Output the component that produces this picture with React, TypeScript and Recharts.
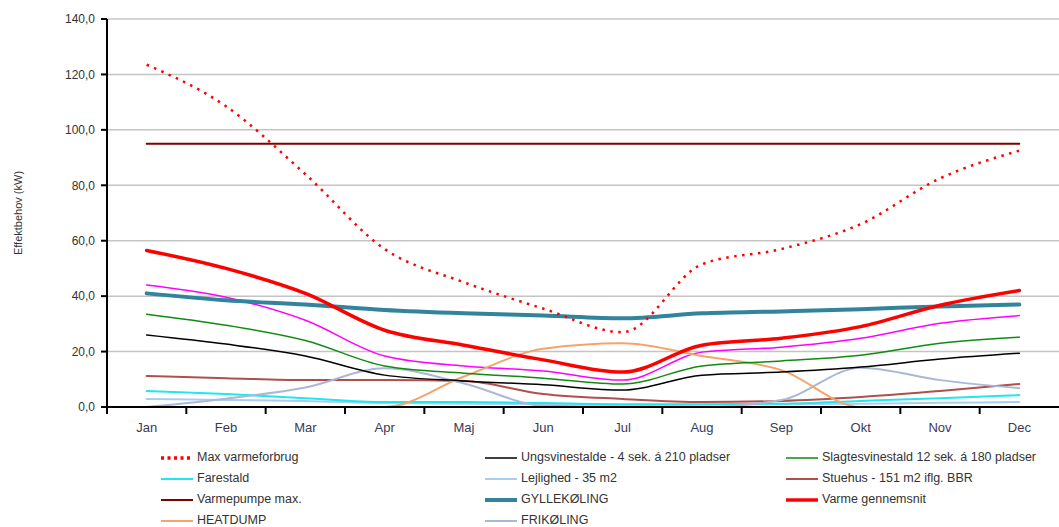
import React from 'react';
import { LineChart, Line, XAxis, YAxis, CartesianGrid } from 'recharts';

const months = ['Jan', 'Feb', 'Mar', 'Apr', 'Maj', 'Jun', 'Jul', 'Aug', 'Sep', 'Okt', 'Nov', 'Dec'];
const yTicks = [0, 20, 40, 60, 80, 100, 120, 140];

const maxVarme = [123.5, 108.5, 84, 57, 45, 35.5, 27, 51.5, 57, 66, 82.5, 92.5];
const ungsvin = [26, 22.7, 18.4, 11.5, 9.4, 8, 6.1, 11.5, 12.6, 14.4, 17.3, 19.4];
const slagtesvin = [33.5, 29.5, 24, 14.8, 12.2, 10.4, 8.3, 14.8, 16.6, 18.7, 23, 25.2];
const farestald = [5.8, 4.7, 3.2, 1.8, 1.8, 1.4, 1, 1, 1.2, 2.2, 3.2, 4.3];
const lejlighed = [2.9, 2.5, 2.2, 1.4, 1.2, 1, 0.7, 0.8, 1, 1.2, 1.5, 1.8];
const stuehus = [11.2, 10.4, 9.7, 9.7, 9.4, 4.7, 2.9, 1.8, 2.2, 3.6, 5.8, 8.3];
const varmepumpe = [95, 95, 95, 95, 95, 95, 95, 95, 95, 95, 95, 95];
const gyllekoeling = [41, 38.5, 37, 35, 33.8, 33, 32, 33.8, 34.5, 35.3, 36.3, 37];
const varmeGns = [56.5, 50, 41, 27.7, 22.3, 17, 12.6, 22.3, 24.8, 29, 36.7, 42];
const heatdump = [0, 0, 0, 0, 11, 21, 23, 18.4, 13.3, 0, 0, 0];
const frikoeling = [0, 3, 7, 14, 8.5, 0.5, 0, 0, 2.5, 14.2, 9.7, 6.8];
const total = [44, 39.6, 31.3, 18.4, 14.8, 13, 9.7, 19.8, 21.6, 24.8, 30.2, 33];

const data = months.map((m, i) => ({
  month: m,
  maxVarme: maxVarme[i],
  ungsvin: ungsvin[i],
  slagtesvin: slagtesvin[i],
  farestald: farestald[i],
  lejlighed: lejlighed[i],
  stuehus: stuehus[i],
  varmepumpe: varmepumpe[i],
  gyllekoeling: gyllekoeling[i],
  varmeGns: varmeGns[i],
  heatdump: heatdump[i],
  frikoeling: frikoeling[i],
  total: total[i],
}));

type S = { key: string; name: string; color: string; width: number; dash?: string; legend: boolean };

const series: S[] = [
  { key: 'total', name: 'Total', color: '#ff00ff', width: 1.5, legend: false },
  { key: 'lejlighed', name: 'Lejlighed - 35 m2', color: '#a9cdf0', width: 2, legend: true },
  { key: 'farestald', name: 'Farestald', color: '#22e6ee', width: 2, legend: true },
  { key: 'stuehus', name: 'Stuehus - 151 m2 iflg. BBR', color: '#b0504c', width: 2, legend: true },
  { key: 'frikoeling', name: 'FRIKØLING', color: '#aab8d6', width: 2, legend: true },
  { key: 'heatdump', name: 'HEATDUMP', color: '#f4a46a', width: 2, legend: true },
  { key: 'ungsvin', name: 'Ungsvinestalde - 4 sek. á 210 pladser', color: '#000000', width: 1.5, legend: true },
  { key: 'slagtesvin', name: 'Slagtesvinestald 12 sek. á 180 pladser', color: '#118a11', width: 1.5, legend: true },
  { key: 'gyllekoeling', name: 'GYLLEKØLING', color: '#31849b', width: 4, legend: true },
  { key: 'varmepumpe', name: 'Varmepumpe max.', color: '#7f0000', width: 2, legend: true },
  { key: 'varmeGns', name: 'Varme gennemsnit', color: '#ff0000', width: 3.5, legend: true },
  { key: 'maxVarme', name: 'Max varmeforbrug', color: '#ff0000', width: 2.5, dash: '2.5 5.5', legend: true },
];

const legendRows: string[][] = [
  ['maxVarme', 'ungsvin', 'slagtesvin'],
  ['farestald', 'lejlighed', 'stuehus'],
  ['varmepumpe', 'gyllekoeling', 'varmeGns'],
  ['heatdump', 'frikoeling'],
];
const legendCols = [160, 484, 785];
const legendRowY = [450, 471, 492, 513];

const band = 952 / 12;

const XTick = (props: any) => {
  const { x, y, payload } = props;
  return (
    <g>
      <line x1={x - band / 2} y1={y} x2={x - band / 2} y2={y + 7} stroke="#000" strokeWidth={2} />
      <text x={x} y={y + 25} textAnchor="middle" fontSize={13} fill="#3a3a55" fontFamily="Liberation Sans, Arial, sans-serif">
        {payload.value}
      </text>
    </g>
  );
};

const LegendBlock = () => (
  <div style={{ position: 'absolute', left: 0, top: 0, width: 1059, height: 527, pointerEvents: 'none', fontFamily: '"Liberation Sans Narrow", "Liberation Sans", Arial, sans-serif', fontSize: 12.5, color: '#333' }}>
    {legendRows.map((row, r) =>
      row.map((k, c) => {
        const s = series.find((q) => q.key === k)!;
        return (
          <div key={k} style={{ position: 'absolute', left: legendCols[c], top: legendRowY[r], display: 'flex', alignItems: 'center', whiteSpace: 'nowrap', lineHeight: '15px' }}>
            <svg width={34} height={8} style={{ display: 'block' }}>
              <line x1={1} y1={4} x2={33} y2={4} stroke={s.color} strokeWidth={Math.min(s.width + (s.dash ? 1 : 0), 4)} strokeDasharray={s.dash ? '3 3.5' : undefined} />
            </svg>
            <span style={{ marginLeft: 3 }}>{s.name}</span>
          </div>
        );
      })
    )}
  </div>
);

export default function App() {
  return (
    <div style={{ position: 'absolute', left: 0, top: 0, width: 1059, height: 527, background: '#fff' }}>
      <LineChart width={1059} height={527} data={data} margin={{ top: 19, right: 0, bottom: 90, left: 0 }}>
        <CartesianGrid vertical={false} stroke="#c4c4c4" strokeWidth={1.5} />
        <XAxis
          dataKey="month"
          height={30}
          padding={{ left: band / 2, right: band / 2 }}
          tick={<XTick />}
          tickLine={false}
          tickSize={0}
          tickMargin={0}
          axisLine={{ stroke: '#000', strokeWidth: 2 }}
          interval={0}
        />
        <YAxis
          width={107}
          domain={[0, 140]}
          ticks={yTicks}
          interval={0}
          tickSize={6}
          tickMargin={6}
          tickLine={{ stroke: '#000', strokeWidth: 2 }}
          axisLine={{ stroke: '#000', strokeWidth: 2 }}
          tick={{ fontSize: 12, fill: '#333', fontFamily: 'Liberation Sans, Arial, sans-serif' }}
          tickFormatter={(v: number) => v.toFixed(1).replace('.', ',')}
          label={{ value: 'Effektbehov (kW)', angle: -90, position: 'insideLeft', offset: 18, style: { fontSize: 11, fill: '#333', fontFamily: 'Liberation Sans, Arial, sans-serif', textAnchor: 'middle' } }}
        />
        {series.map((s) => (
          <Line
            key={s.key}
            dataKey={s.key}
            name={s.name}
            type="monotone"
            stroke={s.color}
            strokeWidth={s.width}
            strokeDasharray={s.dash}
            strokeLinecap={s.dash ? 'butt' : 'round'}
            dot={false}
            activeDot={false}
            isAnimationActive={false}
            legendType={s.legend ? 'line' : 'none'}
          />
        ))}
      </LineChart>
      <LegendBlock />
    </div>
  );
}
